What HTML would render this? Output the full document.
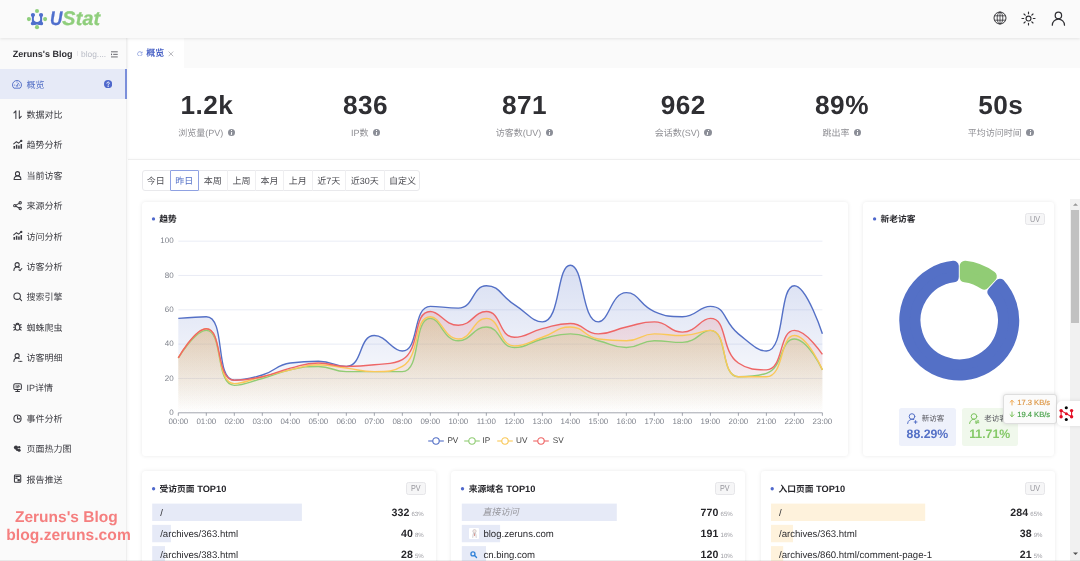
<!DOCTYPE html>
<html lang="zh-CN">
<head>
<meta charset="utf-8">
<title>UStat - 概览</title>
<style>
*{box-sizing:border-box;margin:0;padding:0}
html,body{width:1080px;height:561px;overflow:hidden;background:#fff}
body{text-rendering:geometricPrecision;font-family:"Liberation Sans","Noto Sans CJK SC",sans-serif;color:#333;position:relative;font-size:9px;line-height:1}
.abs{position:absolute}
.cj{font-family:"Liberation Sans","Noto Sans CJK SC",sans-serif}
#hdr{left:0;top:0;width:1080px;height:38.25px;background:#fafafa;box-shadow:0 1px 3px rgba(0,0,0,.09);z-index:5}
#logo{left:50.2px;top:7.6px;font-size:19.7px;font-weight:bold;font-style:italic;line-height:22px;color:#8fce7c;letter-spacing:-0.25px;-webkit-text-stroke:0.3px currentColor}
#logo b{color:#4f6fcc;display:inline-block;transform:scaleX(.87);transform-origin:0 50%;margin-right:-1.8px}
#logo span{letter-spacing:0.2px}
#side{left:0;top:38.25px;width:127.4px;height:523px;background:#fafafa;border-right:1px solid #efefef;box-shadow:1px 0 3px rgba(0,0,0,.04);z-index:3}
#site{left:12.8px;top:47.5px;font-size:9px;font-weight:bold;color:#2e2e33;line-height:12px;z-index:4;white-space:nowrap}
#site2{left:76px;top:47.6px;font-size:8.4px;color:#b9bcc6;line-height:12px;z-index:4;white-space:nowrap}
.mi{left:0;width:127px;height:30.375px;z-index:4;color:#3a3a40}
.mi.on{background:#e6eaf7;color:#5470c6;border-right:2px solid #7a8eda}
.mi svg.ic{position:absolute;left:12.6px;top:10.8px;width:9px;height:9px;fill:none;stroke:currentColor;stroke-width:1.15;stroke-linecap:round;stroke-linejoin:round;overflow:visible}
.mi.on svg.ic{left:12px;top:10.3px;width:10px;height:10px;stroke-width:.95}
.mi span{position:absolute;left:26.4px;top:11.1px;font-size:9px;line-height:10px;white-space:nowrap}
#wm,#wm2{font-weight:bold;font-size:15.5px;line-height:17.6px;color:#f57f7f;z-index:6;white-space:nowrap}
#wm2{letter-spacing:0.05px;font-size:15.6px}
#tabs{left:127.4px;top:38.25px;width:953px;height:29.4px;background:#fafafa;z-index:2}
#tab1{left:128px;top:38.25px;width:56.4px;height:29.4px;background:#fff;z-index:2}
#main{left:127.4px;top:67.6px;width:953px;height:494px;background:#fff}
.st{top:91px;width:158.8px;text-align:center}
.st .n{font-size:26.2px;font-weight:bold;color:#2f2f33;line-height:28px;letter-spacing:0.45px}
.st .l{margin-top:8.6px;font-size:9px;color:#8e8e93;line-height:11px;white-space:nowrap}
.st .l i{display:inline-block;width:7.4px;height:7.4px;border-radius:50%;background:#8b8e97;margin-left:4.5px;vertical-align:-0.6px;position:relative}
.st .l i:after{content:"";position:absolute;left:3.2px;top:3.1px;width:1px;height:2.8px;background:#fff;transform:skewX(-8deg)}
.st .l i:before{content:"";position:absolute;left:3.4px;top:1.4px;width:1px;height:1px;background:#fff}
#hr1{left:128px;top:158.6px;width:952px;height:1px;background:#efefef;box-shadow:0 -1px 2px rgba(0,0,0,.03)}
#btns{left:141.5px;top:170.2px;width:278.9px;height:20.4px;border:1px solid #e9e9ec;border-radius:3px}
.bt{top:170.2px;height:20.4px;line-height:22px;text-align:center;font-size:9px;color:#4a4a50;border-left:1px solid #efeff1;white-space:nowrap}
.bt.on{border:1px solid #8fa1e2;color:#5470c6;background:#fff;border-radius:1px}
.card{background:#fff;border-radius:3.5px;box-shadow:0 0 4px rgba(0,0,0,.09)}
.ct{font-size:9.25px;font-weight:bold;color:#26262b;line-height:11px;white-space:nowrap}
.ct .cj{font-size:8.75px}
.bdg{width:19.6px;height:12.4px;border:1px solid #e6e6e9;background:#f6f6f7;border-radius:2.5px;font-size:8.6px;line-height:11.5px;color:#97979d;text-align:center}
.bdg span{display:inline-block;transform:scaleX(.84)}
.yl{position:absolute;left:150px;width:23.6px;text-align:right;font-size:8px;line-height:10px;color:#7d808a}
.xl{position:absolute;top:416.6px;width:30px;text-align:center;font-size:7.9px;line-height:10px;color:#7d808a}
.lg{top:435.6px;font-size:8.2px;line-height:10px;color:#444}
.row{height:17.3px}
.rt .cj{font-size:9.1px}
.rt{font-size:9.6px;line-height:19px;color:#2c2c30;white-space:nowrap}
.rv{width:70px;text-align:right;line-height:19px;white-space:nowrap}
.rv b{font-size:10.6px;color:#26262a;letter-spacing:0.1px}
.rv small{font-size:6.1px;color:#9a9aa0;margin-left:2px}
</style>
</head>
<body>
<div id="app" style="position:absolute;left:0;top:0;width:1080px;height:561px;overflow:hidden;will-change:transform">
<!-- header -->
<div id="hdr" class="abs"></div>
<svg class="abs" style="left:26px;top:7.85px;z-index:6" width="22" height="22" viewBox="0 0 22 22">
 <g fill="#4f6fcc" stroke="#4f6fcc" stroke-linecap="round" stroke-linejoin="round">
  <path d="M6.93 7.1L6.9 15.3M15.07 7.1L15.1 15.3" stroke-width="2.1" fill="none"/>
  <path d="M6.8 15.5H15.2" stroke-width="3" fill="none"/>
  <path d="M7 12.4h8v3H7z" stroke="none"/>
  <circle cx="6.95" cy="7.1" r="2.1" stroke="none"/><circle cx="15.05" cy="7.1" r="2.1" stroke="none"/>
  <circle cx="6.75" cy="15.5" r="1.85" stroke="none"/><circle cx="15.25" cy="15.5" r="1.85" stroke="none"/>
 </g>
 <circle cx="11" cy="10.8" r="3.15" fill="#fafafa"/>
 <path d="M9.1 3h3.8v7H9.1z" fill="#fafafa"/>
 <circle cx="11" cy="19.2" r="2.8" fill="#fafafa"/>
 <g fill="#8fce7c"><circle cx="11" cy="2.95" r="2.05"/><circle cx="2.9" cy="11.1" r="2.05"/><circle cx="19.1" cy="11.1" r="2.05"/><circle cx="11" cy="19.15" r="2.05"/></g>
</svg>
<div id="logo" class="abs" style="z-index:6"><b>U</b><span>Stat</span></div>
<!-- header right icons -->
<svg class="abs" style="left:993px;top:10.8px;z-index:6" width="14" height="14" viewBox="0 0 14 14" fill="none" stroke="#2f2f33" stroke-width=".95">
 <circle cx="7" cy="7" r="6"/><ellipse cx="7" cy="7" rx="2.800" ry="6" stroke-width=".8"/><path d="M7 1v12M1.400 4.800h11.200M1.400 9.200h11.200" stroke-width=".8"/>
</svg>
<svg class="abs" style="left:1021.4px;top:10.6px;z-index:6" width="15" height="15" viewBox="0 0 15 15" fill="none" stroke="#2f2f33" stroke-width="1.15" stroke-linecap="round">
 <circle cx="7.5" cy="7.500" r="2.450"/><path d="M7.500 1v1.700M7.500 12.300v1.700M1 7.500h1.700M12.300 7.500h1.700M3 3l1.200 1.200M10.800 10.800l1.200 1.200M3 12l1.200-1.200M10.800 4.200l1.200-1.200"/>
</svg>
<svg class="abs" style="left:1051px;top:10.9px;z-index:6" width="15" height="15" viewBox="0 0 15 15" fill="none" stroke="#2f2f33" stroke-width="1.25" stroke-linecap="round">
 <circle cx="7.4" cy="4.4" r="3.2"/><path d="M1.3 14.2a6.1 6.1 0 0 1 12.2 0"/>
</svg>

<!-- sidebar -->
<div id="side" class="abs"></div>
<div id="site" class="abs">Zeruns's Blog</div>
<div class="abs" style="left:76.6px;top:51px;width:1px;height:4.5px;background:#e6e6ea;z-index:4"></div>
<div id="site2" class="abs" style="left:81px">blog....</div>
<svg class="abs" style="left:110.9px;top:50.9px;z-index:4" width="7.300" height="7.300" viewBox="0 0 8 8" fill="none" stroke="#5d5d64" stroke-width="1"><path d="M0 .9h7.4M2.4 3.7h5M0 6.5h7.4"/><path d="M0 2.6l1.4 1.1L0 4.8z" fill="#55555c" stroke="none"/></svg>
<div class="abs mi on" style="top:68.65px"><svg class="ic" viewBox="0 0 10 10"><path d="M1.600 8.900Q.5 7.900 .5 5.900A4.500 4.400 0 0 1 9.500 5.900Q9.500 7.900 8.400 8.900Z"/><path d="M5 6.600l1.500-2.400M4.300 7h1.400" /><path d="M2.300 6.100h.5M7.200 6.100h.5M5 2.800v.5" stroke-width=".8"/></svg><span>概览</span></div>
<div class="abs mi" style="top:99.03px"><svg class="ic" viewBox="0 0 10 10"><path d="M3.2 9.4V.9L1 3.2M7 .8v8.5l2.2-2.3"/></svg><span>数据对比</span></div>
<div class="abs mi" style="top:129.40px"><svg class="ic" viewBox="0 0 10 10"><path d="M1.4 9.6V6.6M4 9.6V5.2M6.6 9.6V6.2M9.2 9.6V4.4" stroke-width="1.7" stroke-linecap="butt"/><path d="M.8 4.4L3.8 1.9l2.4 1.6L9 1"/><circle cx="9.2" cy="1" r=".7" fill="currentColor"/></svg><span>趋势分析</span></div>
<div class="abs mi" style="top:159.78px"><svg class="ic" viewBox="0 0 10 10"><circle cx="5" cy="3" r="2.3"/><path d="M1.2 9.4c0-2.6 1.6-4 3.8-4s3.8 1.4 3.8 4z"/></svg><span>当前访客</span></div>
<div class="abs mi" style="top:190.15px"><svg class="ic" viewBox="0 0 10 10"><circle cx="2" cy="5.2" r="1.3"/><circle cx="8" cy="2" r="1.3"/><circle cx="8" cy="8.4" r="1.3"/><path d="M3.2 4.6l3.6-2M3.2 5.8l3.6 2"/></svg><span>来源分析</span></div>
<div class="abs mi" style="top:220.53px"><svg class="ic" viewBox="0 0 10 10"><path d="M1.4 9.6V6.6M4 9.6V5.2M6.6 9.6V6.2M9.2 9.6V4.4" stroke-width="1.7" stroke-linecap="butt"/><path d="M.8 4.4L3.8 1.9l2.4 1.6L9 1"/><circle cx="9.2" cy="1" r=".7" fill="currentColor"/></svg><span>访问分析</span></div>
<div class="abs mi" style="top:250.90px"><svg class="ic" viewBox="0 0 10 10"><circle cx="4.6" cy="3" r="2.3"/><path d="M1 9.4c0-2.6 1.5-4 3.6-4 1.1 0 2 .4 2.6 1"/><path d="M6.6 8.6l1.2 1 2-2.4" /></svg><span>访客分析</span></div>
<div class="abs mi" style="top:281.27px"><svg class="ic" viewBox="0 0 10 10"><circle cx="4.6" cy="4.6" r="3.6"/><path d="M7.4 7.4l2.2 2.2"/></svg><span>搜索引擎</span></div>
<div class="abs mi" style="top:311.65px"><svg class="ic" viewBox="0 0 10 10"><ellipse cx="5" cy="5.8" rx="2.6" ry="3.4"/><path d="M3.4 2.4a1.7 1.7 0 0 1 3.2 0M.6 5.8h1.8M7.6 5.8h1.8M1 2.8l1.6 1.2M9 2.8L7.4 4M1 9l1.6-1.2M9 9L7.4 7.8"/></svg><span>蜘蛛爬虫</span></div>
<div class="abs mi" style="top:342.02px"><svg class="ic" viewBox="0 0 10 10"><circle cx="4.6" cy="3" r="2.3"/><path d="M1 9.4c0-2.6 1.5-4 3.6-4 .9 0 1.700.3 2.300.8"/><path d="M6.600 9.300h.2M8.200 9.300h.2M9.700 9.300h.1" stroke-width="1.300"/></svg><span>访客明细</span></div>
<div class="abs mi" style="top:372.40px"><svg class="ic" viewBox="0 0 10 10"><rect x=".9" y=".9" width="8.400" height="6.400" rx="1.600"/><path d="M3.500 2.800v2.600M5.300 5.400V2.800h1c1.200 0 1.200 1.500 0 1.500h-1" stroke-width=".9"/><path d="M5.100 7.500v1.800M3 9.500h4.200"/></svg><span>IP详情</span></div>
<div class="abs mi" style="top:402.77px"><svg class="ic" viewBox="0 0 10 10"><circle cx="5" cy="5.200" r="4"/><path d="M5 2.600v2.800h2.800"/></svg><span>事件分析</span></div>
<div class="abs mi" style="top:433.15px"><svg class="ic" viewBox="0 0 10 10"><g fill="currentColor" stroke="none"><circle cx="3.300" cy="4" r="2.300"/><circle cx="6.900" cy="3.600" r="1.300"/><circle cx="6.800" cy="6.900" r="1.700"/><circle cx="4.600" cy="6.400" r="1.300"/></g></svg><span>页面热力图</span></div>
<div class="abs mi" style="top:463.52px"><svg class="ic" viewBox="0 0 10 10"><rect x="1.600" y="1.200" width="7" height="8" rx=".8"/><path d="M3 2.800h4.200M3 4.600h1.600"/><rect x="5" y="5.600" width="2.600" height="2.600" fill="currentColor" stroke="none"/></svg><span>报告推送</span></div>
<svg class="abs" style="left:104.2px;top:79.9px;z-index:5" width="8.200" height="8.200" viewBox="0 0 8 8"><circle cx="4" cy="4" r="4" fill="#4f68cc"/><path d="M2.850 3.100a1.150 1.100 0 1 1 1.800 .9c-.5.300-.6.500-.6 1" fill="none" stroke="#fff" stroke-width=".95" stroke-linecap="round"/><circle cx="4.050" cy="6.250" r=".55" fill="#fff"/></svg>
<div id="wm" class="abs" style="left:15px;top:508.8px">Zeruns's Blog</div>
<div id="wm2" class="abs" style="left:6.2px;top:526.5px">blog.zeruns.com</div>

<!-- tabs -->
<div id="tabs" class="abs"></div>
<div id="tab1" class="abs"></div>
<svg class="abs" style="left:137.2px;top:50.6px;z-index:3" width="5.600" height="5.600" viewBox="0 0 7 7" fill="none" stroke="#7f93da" stroke-width="0.95"><path d="M5.9 2.2A2.8 2.8 0 1 0 6.3 3.8"/><path d="M6.4 .8v1.8H4.6" /></svg>
<div class="abs" style="left:146.3px;top:48.3px;font-size:9px;line-height:11px;color:#4a63c6;z-index:3;font-weight:bold;white-space:nowrap"><span class="cj">概览</span></div>
<svg class="abs" style="left:167.6px;top:50.7px;z-index:3" width="6" height="6" viewBox="0 0 6 6" stroke="#9a9aa2" stroke-width="0.7"><path d="M.6 .6l4.6 4.6M5.2 .6L.6 5.2"/></svg>

<!-- main -->
<div id="main" class="abs"></div>
<div class="abs st" style="left:127.4px"><div class="n">1.2k</div><div class="l"><span class="cj">浏览量</span>(PV)<i></i></div></div>
<div class="abs st" style="left:286.2px"><div class="n">836</div><div class="l">IP<span class="cj">数</span><i></i></div></div>
<div class="abs st" style="left:445px"><div class="n">871</div><div class="l"><span class="cj">访客数</span>(UV)<i></i></div></div>
<div class="abs st" style="left:603.8px"><div class="n">962</div><div class="l"><span class="cj">会话数</span>(SV)<i></i></div></div>
<div class="abs st" style="left:762.6px"><div class="n">89%</div><div class="l"><span class="cj">跳出率</span><i></i></div></div>
<div class="abs st" style="left:921.4px"><div class="n">50s</div><div class="l"><span class="cj">平均访问时间</span><i></i></div></div>
<div id="hr1" class="abs"></div>

<div id="btns" class="abs"></div>
<div class="abs bt" style="left:141.5px;width:28.5px;border-left:none"><span class="cj">今日</span></div>
<div class="abs bt on" style="left:169.7px;width:29.3px;line-height:20px;z-index:2"><span class="cj">昨日</span></div>
<div class="abs bt" style="left:198.5px;width:28.5px;border-left:none"><span class="cj">本周</span></div>
<div class="abs bt" style="left:227.0px;width:28.0px"><span class="cj">上周</span></div>
<div class="abs bt" style="left:255.0px;width:28.0px"><span class="cj">本月</span></div>
<div class="abs bt" style="left:283.0px;width:28.5px"><span class="cj">上月</span></div>
<div class="abs bt" style="left:311.5px;width:33.5px"><span class="cj">近</span>7<span class="cj">天</span></div>
<div class="abs bt" style="left:345.0px;width:38.5px"><span class="cj">近</span>30<span class="cj">天</span></div>
<div class="abs bt" style="left:383.5px;width:36.9px"><span class="cj">自定义</span></div>

<!-- trend card -->
<div class="abs card" style="left:141.7px;top:201.7px;width:706.6px;height:254.6px"></div>
<div class="abs ct" style="left:159.2px;top:214.4px"><span class="cj">趋势</span></div>
<svg class="abs" style="left:0;top:0" width="1080" height="561" viewBox="0 0 1080 561">
<defs>
<linearGradient id="gPV" x1="0" y1="0" x2="0" y2="1"><stop offset="0" stop-color="#5470c6" stop-opacity="0.23"/><stop offset="1" stop-color="#5470c6" stop-opacity="0"/></linearGradient>
<linearGradient id="gIP" x1="0" y1="0" x2="0" y2="1"><stop offset="0" stop-color="#91cc75" stop-opacity="0.20500000000000002"/><stop offset="1" stop-color="#91cc75" stop-opacity="0"/></linearGradient>
<linearGradient id="gUV" x1="0" y1="0" x2="0" y2="1"><stop offset="0" stop-color="#fac858" stop-opacity="0.20500000000000002"/><stop offset="1" stop-color="#fac858" stop-opacity="0"/></linearGradient>
<linearGradient id="gSV" x1="0" y1="0" x2="0" y2="1"><stop offset="0" stop-color="#ee6666" stop-opacity="0.20500000000000002"/><stop offset="1" stop-color="#ee6666" stop-opacity="0"/></linearGradient>
</defs>
<line x1="178.3" x2="822.4" y1="378.47" y2="378.47" stroke="#e3e7f3" stroke-width="0.8"/>
<line x1="178.3" x2="822.4" y1="344.14" y2="344.14" stroke="#e3e7f3" stroke-width="0.8"/>
<line x1="178.3" x2="822.4" y1="309.81" y2="309.81" stroke="#e3e7f3" stroke-width="0.8"/>
<line x1="178.3" x2="822.4" y1="275.48" y2="275.48" stroke="#e3e7f3" stroke-width="0.8"/>
<line x1="178.3" x2="822.4" y1="241.15" y2="241.15" stroke="#e3e7f3" stroke-width="0.8"/>
<path d="M178.30 318.39C178.30 318.39 198.24 316.68 206.30 316.68C226.25 316.68 214.45 380.19 234.31 380.19C242.45 380.19 248.78 379.18 262.31 375.04C276.79 370.60 275.74 364.89 290.32 363.02C303.74 361.31 304.42 361.31 318.32 361.31C332.43 361.31 334.96 366.45 346.32 366.45C362.97 366.45 358.48 335.56 374.33 335.56C386.48 335.56 391.75 351.01 402.33 351.01C419.76 351.01 412.06 306.38 430.34 306.38C440.07 306.38 446.04 308.09 458.34 308.09C474.04 308.09 471.93 285.78 486.34 285.78C499.94 285.78 500.15 295.52 514.35 304.66C528.15 313.55 532.77 321.83 542.35 321.83C560.78 321.83 556.35 265.18 570.36 265.18C584.36 265.18 581.28 321.83 598.36 321.83C609.29 321.83 611.10 292.64 626.36 292.64C639.11 292.64 639.17 305.42 654.37 311.53C667.18 316.68 668.70 316.68 682.37 316.68C696.70 316.68 698.28 306.38 710.38 306.38C726.28 306.38 723.14 321.70 738.38 333.84C751.14 344.01 757.53 351.01 766.38 351.01C785.53 351.01 778.69 285.78 794.39 285.78C806.69 285.78 822.39 333.84 822.39 333.84L822.39 412.80L178.30 412.80Z" fill="url(#gPV)"/>
<path d="M178.30 357.87C178.30 357.87 195.42 330.41 206.30 330.41C223.42 330.41 215.23 385.34 234.31 385.34C243.23 385.34 248.42 382.30 262.31 378.47C276.42 374.58 276.05 372.95 290.32 369.89C304.06 366.94 304.38 366.45 318.32 366.45C332.39 366.45 332.21 371.60 346.32 371.60C360.21 371.60 360.33 371.60 374.33 371.60C388.33 371.60 393.43 371.60 402.33 371.60C421.44 371.60 412.78 318.39 430.34 318.39C440.79 318.39 443.37 340.71 458.34 340.71C471.38 340.71 473.10 326.98 486.34 326.98C501.10 326.98 499.15 347.57 514.35 347.57C527.15 347.57 528.15 342.47 542.35 338.99C556.16 335.61 556.44 333.84 570.36 333.84C584.45 333.84 584.36 337.27 598.36 340.71C612.36 344.14 612.36 347.57 626.36 347.57C640.37 347.57 640.17 340.71 654.37 340.71C668.18 340.71 668.95 342.42 682.37 342.42C696.95 342.42 700.29 330.41 710.38 330.41C728.30 330.41 719.97 376.75 738.38 376.75C747.97 376.75 755.49 376.75 766.38 373.32C783.49 367.93 779.96 338.99 794.39 338.99C807.97 338.99 822.39 369.89 822.39 369.89L822.39 412.80L178.30 412.80Z" fill="url(#gIP)"/>
<path d="M178.30 357.87C178.30 357.87 195.21 328.69 206.30 328.69C223.21 328.69 215.23 383.62 234.31 383.62C243.23 383.62 248.31 380.19 262.31 376.75C276.31 373.32 276.23 372.91 290.32 369.89C304.23 366.90 304.25 364.74 318.32 364.74C332.26 364.74 332.32 366.45 346.32 368.17C360.33 369.89 360.39 371.60 374.33 371.60C388.39 371.60 393.02 371.60 402.33 366.45C421.02 356.13 413.12 316.68 430.34 316.68C441.13 316.68 444.13 338.99 458.34 338.99C472.13 338.99 473.19 318.39 486.34 318.39C501.19 318.39 498.32 345.86 514.35 345.86C526.32 345.86 528.48 341.95 542.35 337.27C556.48 332.51 556.50 326.98 570.36 326.98C584.51 326.98 583.78 337.13 598.36 338.99C611.78 340.71 612.55 340.71 626.36 340.71C640.56 340.71 640.17 333.84 654.37 333.84C668.18 333.84 668.47 335.56 682.37 335.56C696.48 335.56 700.73 330.41 710.38 330.41C728.73 330.41 719.92 376.75 738.38 376.75C747.93 376.75 756.31 376.75 766.38 376.75C784.31 376.75 779.57 335.56 794.39 335.56C807.57 335.56 822.39 369.89 822.39 369.89L822.39 412.80L178.30 412.80Z" fill="url(#gUV)"/>
<path d="M178.30 357.87C178.30 357.87 194.87 328.69 206.30 328.69C222.87 328.69 215.40 380.19 234.31 380.19C243.41 380.19 248.57 379.70 262.31 376.75C276.58 373.69 276.12 371.65 290.32 368.17C304.12 364.79 304.25 363.02 318.32 363.02C332.26 363.02 332.28 366.45 346.32 366.45C360.29 366.45 360.43 366.44 374.33 364.74C388.43 363.01 392.85 364.74 402.33 359.59C420.85 349.53 412.39 311.53 430.34 311.53C440.40 311.53 444.34 325.26 458.34 325.26C472.34 325.26 473.73 311.53 486.34 311.53C501.73 311.53 498.53 337.27 514.35 337.27C526.53 337.27 528.15 332.17 542.35 328.69C556.16 325.31 556.68 323.54 570.36 323.54C584.69 323.54 584.12 333.84 598.36 333.84C612.12 333.84 612.27 330.00 626.36 326.98C640.28 323.99 640.69 321.83 654.37 321.83C668.70 321.83 668.68 332.12 682.37 332.12C696.68 332.12 699.96 318.39 710.38 318.39C727.97 318.39 720.28 350.48 738.38 363.02C748.28 369.89 755.93 369.89 766.38 369.89C783.93 369.89 778.50 330.41 794.39 330.41C806.50 330.41 822.39 354.44 822.39 354.44L822.39 412.80L178.30 412.80Z" fill="url(#gSV)"/>
<path d="M178.30 318.39C178.30 318.39 198.24 316.68 206.30 316.68C226.25 316.68 214.45 380.19 234.31 380.19C242.45 380.19 248.78 379.18 262.31 375.04C276.79 370.60 275.74 364.89 290.32 363.02C303.74 361.31 304.42 361.31 318.32 361.31C332.43 361.31 334.96 366.45 346.32 366.45C362.97 366.45 358.48 335.56 374.33 335.56C386.48 335.56 391.75 351.01 402.33 351.01C419.76 351.01 412.06 306.38 430.34 306.38C440.07 306.38 446.04 308.09 458.34 308.09C474.04 308.09 471.93 285.78 486.34 285.78C499.94 285.78 500.15 295.52 514.35 304.66C528.15 313.55 532.77 321.83 542.35 321.83C560.78 321.83 556.35 265.18 570.36 265.18C584.36 265.18 581.28 321.83 598.36 321.83C609.29 321.83 611.10 292.64 626.36 292.64C639.11 292.64 639.17 305.42 654.37 311.53C667.18 316.68 668.70 316.68 682.37 316.68C696.70 316.68 698.28 306.38 710.38 306.38C726.28 306.38 723.14 321.70 738.38 333.84C751.14 344.01 757.53 351.01 766.38 351.01C785.53 351.01 778.69 285.78 794.39 285.78C806.69 285.78 822.39 333.84 822.39 333.84" fill="none" stroke="#5470c6" stroke-width="1.4" stroke-linejoin="round"/>
<path d="M178.30 357.87C178.30 357.87 195.42 330.41 206.30 330.41C223.42 330.41 215.23 385.34 234.31 385.34C243.23 385.34 248.42 382.30 262.31 378.47C276.42 374.58 276.05 372.95 290.32 369.89C304.06 366.94 304.38 366.45 318.32 366.45C332.39 366.45 332.21 371.60 346.32 371.60C360.21 371.60 360.33 371.60 374.33 371.60C388.33 371.60 393.43 371.60 402.33 371.60C421.44 371.60 412.78 318.39 430.34 318.39C440.79 318.39 443.37 340.71 458.34 340.71C471.38 340.71 473.10 326.98 486.34 326.98C501.10 326.98 499.15 347.57 514.35 347.57C527.15 347.57 528.15 342.47 542.35 338.99C556.16 335.61 556.44 333.84 570.36 333.84C584.45 333.84 584.36 337.27 598.36 340.71C612.36 344.14 612.36 347.57 626.36 347.57C640.37 347.57 640.17 340.71 654.37 340.71C668.18 340.71 668.95 342.42 682.37 342.42C696.95 342.42 700.29 330.41 710.38 330.41C728.30 330.41 719.97 376.75 738.38 376.75C747.97 376.75 755.49 376.75 766.38 373.32C783.49 367.93 779.96 338.99 794.39 338.99C807.97 338.99 822.39 369.89 822.39 369.89" fill="none" stroke="#91cc75" stroke-width="1.4" stroke-linejoin="round"/>
<path d="M178.30 357.87C178.30 357.87 195.21 328.69 206.30 328.69C223.21 328.69 215.23 383.62 234.31 383.62C243.23 383.62 248.31 380.19 262.31 376.75C276.31 373.32 276.23 372.91 290.32 369.89C304.23 366.90 304.25 364.74 318.32 364.74C332.26 364.74 332.32 366.45 346.32 368.17C360.33 369.89 360.39 371.60 374.33 371.60C388.39 371.60 393.02 371.60 402.33 366.45C421.02 356.13 413.12 316.68 430.34 316.68C441.13 316.68 444.13 338.99 458.34 338.99C472.13 338.99 473.19 318.39 486.34 318.39C501.19 318.39 498.32 345.86 514.35 345.86C526.32 345.86 528.48 341.95 542.35 337.27C556.48 332.51 556.50 326.98 570.36 326.98C584.51 326.98 583.78 337.13 598.36 338.99C611.78 340.71 612.55 340.71 626.36 340.71C640.56 340.71 640.17 333.84 654.37 333.84C668.18 333.84 668.47 335.56 682.37 335.56C696.48 335.56 700.73 330.41 710.38 330.41C728.73 330.41 719.92 376.75 738.38 376.75C747.93 376.75 756.31 376.75 766.38 376.75C784.31 376.75 779.57 335.56 794.39 335.56C807.57 335.56 822.39 369.89 822.39 369.89" fill="none" stroke="#fac858" stroke-width="1.4" stroke-linejoin="round"/>
<path d="M178.30 357.87C178.30 357.87 194.87 328.69 206.30 328.69C222.87 328.69 215.40 380.19 234.31 380.19C243.41 380.19 248.57 379.70 262.31 376.75C276.58 373.69 276.12 371.65 290.32 368.17C304.12 364.79 304.25 363.02 318.32 363.02C332.26 363.02 332.28 366.45 346.32 366.45C360.29 366.45 360.43 366.44 374.33 364.74C388.43 363.01 392.85 364.74 402.33 359.59C420.85 349.53 412.39 311.53 430.34 311.53C440.40 311.53 444.34 325.26 458.34 325.26C472.34 325.26 473.73 311.53 486.34 311.53C501.73 311.53 498.53 337.27 514.35 337.27C526.53 337.27 528.15 332.17 542.35 328.69C556.16 325.31 556.68 323.54 570.36 323.54C584.69 323.54 584.12 333.84 598.36 333.84C612.12 333.84 612.27 330.00 626.36 326.98C640.28 323.99 640.69 321.83 654.37 321.83C668.70 321.83 668.68 332.12 682.37 332.12C696.68 332.12 699.96 318.39 710.38 318.39C727.97 318.39 720.28 350.48 738.38 363.02C748.28 369.89 755.93 369.89 766.38 369.89C783.93 369.89 778.50 330.41 794.39 330.41C806.50 330.41 822.39 354.44 822.39 354.44" fill="none" stroke="#ee6666" stroke-width="1.4" stroke-linejoin="round"/>
<line x1="178.3" x2="822.4" y1="412.80" y2="412.80" stroke="#7b7f8c" stroke-width="0.7"/>
<path d="M178.30 412.80v3M206.30 412.80v3M234.31 412.80v3M262.31 412.80v3M290.32 412.80v3M318.32 412.80v3M346.32 412.80v3M374.33 412.80v3M402.33 412.80v3M430.34 412.80v3M458.34 412.80v3M486.34 412.80v3M514.35 412.80v3M542.35 412.80v3M570.36 412.80v3M598.36 412.80v3M626.36 412.80v3M654.37 412.80v3M682.37 412.80v3M710.38 412.80v3M738.38 412.80v3M766.38 412.80v3M794.39 412.80v3M822.39 412.80v3" stroke="#7b7f8c" stroke-width="0.7" fill="none"/>
</svg>
<div class="yl" style="top:407.8px">0</div>
<div class="yl" style="top:373.5px">20</div>
<div class="yl" style="top:339.1px">40</div>
<div class="yl" style="top:304.8px">60</div>
<div class="yl" style="top:270.5px">80</div>
<div class="yl" style="top:236.2px">100</div>
<div class="xl" style="left:163.3px">00:00</div>
<div class="xl" style="left:191.3px">01:00</div>
<div class="xl" style="left:219.3px">02:00</div>
<div class="xl" style="left:247.3px">03:00</div>
<div class="xl" style="left:275.3px">04:00</div>
<div class="xl" style="left:303.3px">05:00</div>
<div class="xl" style="left:331.3px">06:00</div>
<div class="xl" style="left:359.3px">07:00</div>
<div class="xl" style="left:387.3px">08:00</div>
<div class="xl" style="left:415.3px">09:00</div>
<div class="xl" style="left:443.3px">10:00</div>
<div class="xl" style="left:471.3px">11:00</div>
<div class="xl" style="left:499.3px">12:00</div>
<div class="xl" style="left:527.4px">13:00</div>
<div class="xl" style="left:555.4px">14:00</div>
<div class="xl" style="left:583.4px">15:00</div>
<div class="xl" style="left:611.4px">16:00</div>
<div class="xl" style="left:639.4px">17:00</div>
<div class="xl" style="left:667.4px">18:00</div>
<div class="xl" style="left:695.4px">19:00</div>
<div class="xl" style="left:723.4px">20:00</div>
<div class="xl" style="left:751.4px">21:00</div>
<div class="xl" style="left:779.4px">22:00</div>
<div class="xl" style="left:807.4px">23:00</div>
<svg class="abs" style="left:428.0px;top:435.7px" width="16" height="10" viewBox="0 0 16 10"><path d="M.2 5h15.600" stroke="#5470c6" stroke-width="1.100"/><circle cx="8" cy="5" r="3.200" fill="#fff" stroke="#5470c6" stroke-width="1.100"/></svg>
<div class="abs lg" style="left:447.4px">PV</div>
<svg class="abs" style="left:463.6px;top:435.7px" width="16" height="10" viewBox="0 0 16 10"><path d="M.2 5h15.600" stroke="#91cc75" stroke-width="1.100"/><circle cx="8" cy="5" r="3.200" fill="#fff" stroke="#91cc75" stroke-width="1.100"/></svg>
<div class="abs lg" style="left:482.6px">IP</div>
<svg class="abs" style="left:496.8px;top:435.7px" width="16" height="10" viewBox="0 0 16 10"><path d="M.2 5h15.600" stroke="#fac858" stroke-width="1.100"/><circle cx="8" cy="5" r="3.200" fill="#fff" stroke="#fac858" stroke-width="1.100"/></svg>
<div class="abs lg" style="left:516px">UV</div>
<svg class="abs" style="left:533.2px;top:435.7px" width="16" height="10" viewBox="0 0 16 10"><path d="M.2 5h15.600" stroke="#ee6666" stroke-width="1.100"/><circle cx="8" cy="5" r="3.200" fill="#fff" stroke="#ee6666" stroke-width="1.100"/></svg>
<div class="abs lg" style="left:552.8px">SV</div>

<!-- donut card -->
<div class="abs card" style="left:863.2px;top:201.7px;width:191.3px;height:254.4px"></div>
<div class="abs ct" style="left:880.6px;top:214.4px"><span class="cj">新老访客</span></div>
<div class="abs bdg" style="left:1025.2px;top:213px"><span>UV</span></div>
<svg class="abs" style="left:0;top:0" width="1080" height="561" viewBox="0 0 1080 561"><path d="M965.00 266.10A54.7 54.7 0 0 1 991.50 276.32L984.27 284.30A44.0 44.0 0 0 0 965.00 276.88Z" fill="#91cc75" stroke="#91cc75" stroke-width="10.6" stroke-linejoin="round"/><path d="M1000.02 284.04A54.7 54.7 0 1 1 953.50 266.10L953.50 276.88A44.0 44.0 0 1 0 992.79 292.02Z" fill="#5470c6" stroke="#5470c6" stroke-width="10.6" stroke-linejoin="round"/></svg>
<div class="abs" style="left:899px;top:407.9px;width:57.100px;height:38.2px;background:#eef1fb;border-radius:2.5px"></div>
<div class="abs" style="left:961.6px;top:407.9px;width:56.8px;height:38.2px;background:#f0f8ec;border-radius:2.5px"></div>
<svg class="abs" style="left:906.6px;top:412.7px" width="11" height="11" viewBox="0 0 11 11" fill="none" stroke="#5470c6" stroke-width="1" stroke-linecap="round"><circle cx="5" cy="3.500" r="2.800"/><path d="M.6 10.500a4.500 4.500 0 0 1 6.200-4.100M8.600 7.600v2.800M7.200 9h2.800"/></svg>
<div class="abs" style="left:921.7px;top:413.7px;font-size:7.600px;line-height:10px;color:#55555c;white-space:nowrap"><span class="cj">新访客</span></div>
<div class="abs" style="left:906.6px;top:427.4px;font-size:12.3px;font-weight:bold;line-height:15px;color:#5470c6">88.29%</div>
<svg class="abs" style="left:969px;top:412.7px" width="11" height="11" viewBox="0 0 11 11" fill="none" stroke="#7cc35e" stroke-width="1" stroke-linecap="round"><circle cx="5" cy="3.500" r="2.800"/><path d="M.6 10.500a4.500 4.500 0 0 1 5-4.400M6.400 8.200h3.400l-1.100-1.100M9.800 9.700H6.400l1.100 1.100"/></svg>
<div class="abs" style="left:984.2px;top:413.7px;font-size:7.600px;line-height:10px;color:#55555c;white-space:nowrap"><span class="cj">老访客</span></div>
<div class="abs" style="left:969.2px;top:427.4px;font-size:12.3px;font-weight:bold;line-height:15px;color:#85c968">11.71%</div>

<!-- net speed popup -->
<div class="abs" style="left:1003px;top:394px;width:54.400px;height:29.600px;background:#fbfbfb;border:1px solid #dedede;border-radius:3px;box-shadow:0 0 4px rgba(0,0,0,.13);z-index:11"></div>
<svg class="abs" style="left:1008.6px;top:399.4px;z-index:12" width="6" height="7" viewBox="0 0 6 7" fill="none" stroke="#eea244" stroke-width=".9" stroke-linecap="round" stroke-linejoin="round"><path d="M3 6V1.400M1.100 3.200L3 1.300 4.900 3.200"/></svg>
<svg class="abs" style="left:1008.6px;top:410.9px;z-index:12" width="6" height="7" viewBox="0 0 6 7" fill="none" stroke="#6fbe4e" stroke-width=".9" stroke-linecap="round" stroke-linejoin="round"><path d="M3 1v4.600M1.100 3.800L3 5.700 4.900 3.800"/></svg>
<div class="abs" style="left:1017.2px;top:398.4px;font-size:7.6px;line-height:10.6px;z-index:12;white-space:nowrap;color:#dc9440;-webkit-text-stroke:0.15px #dc9440">17.3 KB/s</div>
<div class="abs" style="left:1017.2px;top:409.6px;font-size:7.6px;line-height:10.6px;z-index:12;white-space:nowrap;color:#44a046;-webkit-text-stroke:0.15px #44a046">19.4 KB/s</div>
<div class="abs" style="left:1057.4px;top:401.2px;width:26px;height:24.400px;background:#fff;border-radius:5px 0 0 5px;box-shadow:0 0 4px rgba(0,0,0,.1);z-index:11"></div>
<svg class="abs" style="left:1058px;top:405px;z-index:12" width="17" height="17" viewBox="0 0 17 17">
 <path d="M3.100 11.750V5.600L13.600 11.750V5.600" fill="none" stroke="#e30f25" stroke-width="1.100" stroke-linejoin="round"/>
 <g fill="#e30f25"><circle cx="3.100" cy="5.600" r="1.700"/><circle cx="13.600" cy="5.600" r="1.700"/><circle cx="3.100" cy="11.750" r="1.700"/><circle cx="13.600" cy="11.750" r="1.700"/><circle cx="8.350" cy="8.650" r="1.500"/></g>
 <g fill="#050505"><circle cx="8.300" cy="2.700" r="1.550"/><circle cx="8.300" cy="14.500" r="1.550"/></g>
</svg>

<!-- bottom cards -->
<div class="abs card" style="left:141.9px;top:471.3px;width:294.4px;height:110px"></div>
<div class="abs card" style="left:451.0px;top:471.3px;width:294.4px;height:110px"></div>
<div class="abs card" style="left:760.7px;top:471.3px;width:294.4px;height:110px"></div>
<svg class="abs" style="left:0;top:0" width="1080" height="561" viewBox="0 0 1080 561"><rect x="152.20" y="503.60" width="149.7" height="17.4" fill="#e6eaf7"/><rect x="152.20" y="524.85" width="18.7" height="17.4" fill="#e6eaf7"/><rect x="152.20" y="546.10" width="12.8" height="17.4" fill="#e6eaf7"/><rect x="461.80" y="503.60" width="155" height="17.4" fill="#e6eaf7"/><rect x="461.80" y="524.85" width="38.3" height="17.4" fill="#e6eaf7"/><rect x="461.80" y="546.10" width="24.2" height="17.4" fill="#e6eaf7"/><rect x="771.00" y="503.60" width="154.2" height="17.4" fill="#fef2dc"/><rect x="771.00" y="524.85" width="22.0" height="17.4" fill="#fef2dc"/><rect x="771.00" y="546.10" width="12.2" height="17.4" fill="#fef2dc"/></svg>
<div class="abs ct" style="left:159.6px;top:484.1px"><span class="cj">受访页面</span> TOP10</div>
<div class="abs bdg" style="left:406.3px;top:482.4px"><span>PV</span></div>
<div class="abs rt" style="left:160.2px;top:503.70px">/</div>
<div class="abs rv" style="left:353.7px;top:503.70px"><b>332</b><small>63%</small></div>
<div class="abs rt" style="left:160.2px;top:524.95px">/archives/363.html</div>
<div class="abs rv" style="left:353.7px;top:524.95px"><b>40</b><small>8%</small></div>
<div class="abs rt" style="left:160.2px;top:546.20px">/archives/383.html</div>
<div class="abs rv" style="left:353.7px;top:546.20px"><b>28</b><small>5%</small></div>
<div class="abs ct" style="left:468.7px;top:484.1px"><span class="cj">来源域名</span> TOP10</div>
<div class="abs bdg" style="left:715.4px;top:482.4px"><span>PV</span></div>
<div class="abs rt" style="left:483.4px;top:503.70px;color:#97979d;margin-top:-0.5px"><span style="display:inline-block;transform:skewX(-12deg)"><span class="cj">直接访问</span></span></div>
<div class="abs rv" style="left:662.8px;top:503.70px"><b>770</b><small>65%</small></div>
<div class="abs rt" style="left:483.4px;top:524.95px">blog.zeruns.com</div>
<div class="abs rv" style="left:662.8px;top:524.95px"><b>191</b><small>16%</small></div>
<div class="abs rt" style="left:483.4px;top:546.20px">cn.bing.com</div>
<div class="abs rv" style="left:662.8px;top:546.20px"><b>120</b><small>10%</small></div>
<div class="abs" style="left:469px;top:528.2px;width:10.4px;height:10.4px;background:#fff;border-radius:1px"></div>
<svg class="abs" style="left:470.6px;top:529px" width="7" height="9" viewBox="0 0 7 9"><circle cx="3.500" cy="2.200" r="1.700" fill="#f3e9e4" stroke="#b9aeb0" stroke-width=".5"/><path d="M1.700 8.800l.5-4.200h2.600l.5 4.200" fill="#fafafa" stroke="#a9a2a8" stroke-width=".5"/><path d="M3.500 4.600v2.400" stroke="#c0392b" stroke-width=".5"/></svg>
<svg class="abs" style="left:470.4px;top:551.4px" width="7.400" height="7.400" viewBox="0 0 7 7" fill="none" stroke="#2f80d8" stroke-width="1.250" stroke-linecap="round"><circle cx="2.800" cy="2.800" r="1.900"/><path d="M4.300 4.300l1.900 1.900"/></svg>
<div class="abs ct" style="left:778.4px;top:484.1px"><span class="cj">入口页面</span> TOP10</div>
<div class="abs bdg" style="left:1025.1px;top:482.4px"><span>UV</span></div>
<div class="abs rt" style="left:779.0px;top:503.70px">/</div>
<div class="abs rv" style="left:972.5px;top:503.70px"><b>284</b><small>65%</small></div>
<div class="abs rt" style="left:779.0px;top:524.95px">/archives/363.html</div>
<div class="abs rv" style="left:972.5px;top:524.95px"><b>38</b><small>9%</small></div>
<div class="abs rt" style="left:779.0px;top:546.20px">/archives/860.html/comment-page-1</div>
<div class="abs rv" style="left:972.5px;top:546.20px"><b>21</b><small>5%</small></div>

<svg class="abs" style="left:0;top:0;z-index:1" width="1080" height="561" viewBox="0 0 1080 561" fill="#4f68cc"><circle cx="153.500" cy="218.900" r="1.650"/><circle cx="874.600" cy="218.900" r="1.650"/><circle cx="153.600" cy="488.750" r="1.650"/><circle cx="462.500" cy="488.750" r="1.650"/><circle cx="772.200" cy="488.750" r="1.650"/></svg>
<div class="abs" style="left:0;top:560px;width:1080px;height:1px;background:rgba(0,0,0,.07);z-index:20"></div>
<!-- scrollbar -->
<div class="abs" style="left:1070.4px;top:198.9px;width:9.6px;height:362.1px;background:#f1f1f1;z-index:9"></div>
<div class="abs" style="left:1071.2px;top:210.2px;width:7.8px;height:112.6px;background:#c1c1c1;z-index:10"></div>
<svg class="abs" style="left:1072.700px;top:203.400px;z-index:10" width="5" height="3.300" viewBox="0 0 6 4"><path d="M0 3.400L3 .4l3 3z" fill="#969696"/></svg>
<svg class="abs" style="left:1072.700px;top:552px;z-index:10" width="5" height="3.300" viewBox="0 0 6 4"><path d="M0 .6L3 3.600l3-3z" fill="#505050"/></svg>
</div>

</body>
</html>
